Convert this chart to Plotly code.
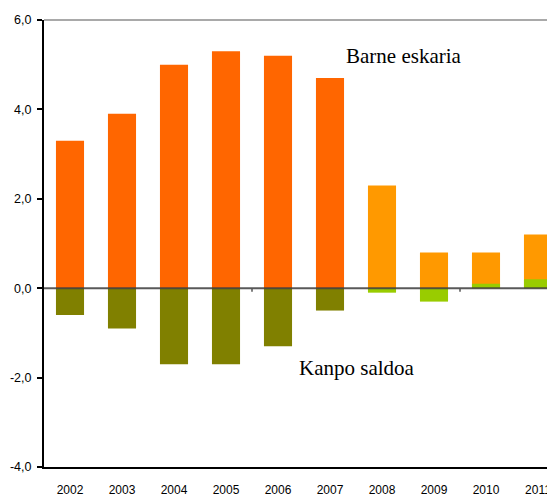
import plotly.graph_objects as go

years = ["2002", "2003", "2004", "2005", "2006", "2007", "2008", "2009", "2010", "2011"]
barne_eskaria = [3.3, 3.9, 5.0, 5.3, 5.2, 4.7, 2.3, 0.8, 0.8, 1.2]
kanpo_saldoa = [-0.6, -0.9, -1.7, -1.7, -1.3, -0.5, -0.1, -0.3, 0.1, 0.2]
y_ticks = [-4, -2, 0, 2, 4, 6]
y_tick_labels = ["-4,0", "-2,0", "0,0", "2,0", "4,0", "6,0"]

# first six years in darker tones, later years lighter
demand_colors = ["#FF6600"] * 6 + ["#FF9900"] * 4
external_colors = ["#808000"] * 6 + ["#99CC00"] * 4

fig = go.Figure()
fig.add_trace(go.Bar(x=years, y=barne_eskaria, marker=dict(color=demand_colors, line=dict(width=0)),
                     width=0.54, name="Barne eskaria"))
fig.add_trace(go.Bar(x=years, y=kanpo_saldoa, marker=dict(color=external_colors, line=dict(width=0)),
                     width=0.54, name="Kanpo saldoa"))

W, H = 547, 498
left, top, bottom = 44, 20, 31
band = 52.0
xmax = -0.5 + (W - left) / band

fig.update_layout(
    width=W, height=H,
    margin=dict(l=left, r=0, t=top, b=bottom, autoexpand=False),
    barmode="overlay",
    showlegend=False,
    plot_bgcolor="white", paper_bgcolor="white",
    font=dict(family="Liberation Sans, Arial, sans-serif", size=12, color="#000"),
    xaxis=dict(type="category", range=[-0.5, xmax], showgrid=False, zeroline=False,
               showline=True, linecolor="#000", linewidth=1.5, ticks="",
               ticklabelstandoff=11, automargin=False),
    yaxis=dict(range=[-4, 6], tickmode="array", tickvals=y_ticks, ticktext=y_tick_labels,
               showgrid=False, zeroline=False,
               showline=True, linecolor="#000", linewidth=2, ticks="outside", ticklen=5,
               tickwidth=1.5, tickcolor="#000", automargin=False, ticklabelstandoff=3,
               tickfont=dict(size=12.5)),
)

# top border and zero line
fig.add_shape(type="line", xref="paper", yref="paper", x0=0, x1=1, y0=1, y1=1,
              line=dict(color="#555", width=1.2))
fig.add_shape(type="line", xref="paper", yref="y", x0=0, x1=1, y0=0, y1=0,
              line=dict(color="rgba(60,60,60,0.85)", width=2), layer="above")
# small marks on the zero line
for xb in [3.5, 7.5]:
    fig.add_shape(type="line", xref="x", yref="y", x0=xb, x1=xb, y0=0, y1=-0.08,
                  line=dict(color="#555", width=1.5))

serif = dict(family="Liberation Serif, Times New Roman, serif", size=21, color="#000")
fig.add_annotation(x=5.27, y=5.2, xref="x", yref="y", xanchor="left", yanchor="middle",
                   text="Barne eskaria", showarrow=False, font=serif)
fig.add_annotation(x=4.36, y=-1.79, xref="x", yref="y", xanchor="left", yanchor="middle",
                   text="Kanpo saldoa", showarrow=False, font=serif)

fig.write_html("out.html")
